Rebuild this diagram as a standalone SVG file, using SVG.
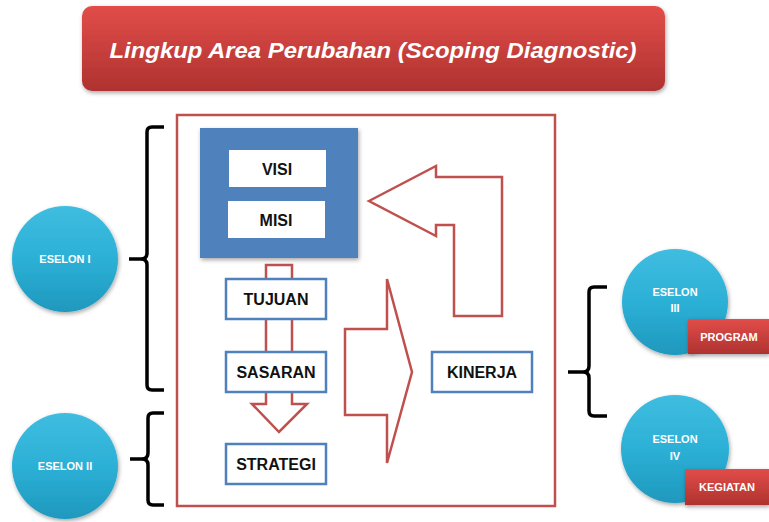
<svg xmlns="http://www.w3.org/2000/svg" width="769" height="522" viewBox="0 0 769 522">
<defs>
<linearGradient id="gRed" x1="0" y1="0" x2="0" y2="1">
<stop offset="0" stop-color="#e24d49"/>
<stop offset="1" stop-color="#ae3230"/>
</linearGradient>
<linearGradient id="gTeal" x1="0" y1="0" x2="0" y2="1">
<stop offset="0" stop-color="#3fbde0"/>
<stop offset="0.5" stop-color="#2cb0d6"/>
<stop offset="1" stop-color="#1f98bd"/>
</linearGradient>
<filter id="sh" x="-20%" y="-20%" width="140%" height="150%">
<feDropShadow dx="1" dy="2" stdDeviation="2" flood-color="#000" flood-opacity="0.35"/>
</filter>
</defs>
<style>
.lbl{font-family:"Liberation Sans",Arial,sans-serif;font-weight:bold;font-size:16px;fill:#111;text-anchor:middle}
.wl{font-family:"Liberation Sans",Arial,sans-serif;font-weight:bold;font-size:11px;fill:#fff;text-anchor:middle}
.box{fill:#fff;stroke:#4f81bd;stroke-width:2.5}
.arr{fill:#fff;stroke:#c0504d;stroke-width:2.5;stroke-linejoin:miter}
.br{fill:none;stroke:#000;stroke-width:3.5;stroke-linejoin:round;stroke-linecap:butt}
.circ{fill:url(#gTeal);filter:url(#sh)}
.tag{fill:url(#gRed);filter:url(#sh)}
</style>
<rect width="769" height="522" fill="#fff"/>

<g id="title">
<rect x="82" y="6" width="583" height="85" rx="10" fill="url(#gRed)" filter="url(#sh)"/>
<text x="373" y="58" font-family="Liberation Sans,Arial,sans-serif" font-weight="bold" font-style="italic" font-size="22" fill="#fff" text-anchor="middle" textLength="527" lengthAdjust="spacingAndGlyphs">Lingkup Area Perubahan (Scoping Diagnostic)</text>
</g>

<g id="frame">
<rect x="177" y="115" width="378" height="391" fill="none" stroke="#c0504d" stroke-width="2.5"/>
</g>

<g id="connectors">
<polygon class="arr" points="266,265 292,265 292,404 307,404 279,432 252,404 266,404"/>
<polygon class="arr" points="345,329 387,329 387,279 412,372 387,463 387,415 345,415"/>
<polygon class="arr" points="369,201 436,166 436,177 502,177 502,316 454,316 454,225 436,225 436,236"/>
<path class="br" d="M164,127 H152 Q147,127 147,132 V253 Q147,259 141,259 H129 M141,259 Q147,259 147,265 V385 Q147,390 152,390 H164"/>
<path class="br" d="M164,413 H153 Q148,413 148,418 V453 Q148,459 142,459 H130 M142,459 Q148,459 148,465 V500 Q148,505 153,505 H164"/>
<path class="br" d="M607,287 H594 Q589,287 589,292 V366 Q589,372 583,372 H568 M583,372 Q589,372 589,378 V411 Q589,416 594,416 H607"/>
</g>

<g id="visimisi">
<rect x="200" y="128" width="158" height="130" fill="#4f81bd" filter="url(#sh)"/>
<rect x="229" y="150" width="97" height="37" fill="#fff"/>
<text class="lbl" x="277" y="175" font-size="17">VISI</text>
<rect x="228" y="201" width="97" height="37" fill="#fff"/>
<text class="lbl" x="276" y="226" font-size="17">MISI</text>
</g>

<g id="tujuan">
<rect class="box" x="226" y="279" width="100" height="40"/>
<text class="lbl" x="276" y="305">TUJUAN</text>
</g>
<g id="sasaran">
<rect class="box" x="226" y="352" width="100" height="40"/>
<text class="lbl" x="276" y="378">SASARAN</text>
</g>
<g id="strategi">
<rect class="box" x="226" y="444" width="100" height="40"/>
<text class="lbl" x="276" y="470">STRATEGI</text>
</g>
<g id="kinerja">
<rect class="box" x="432" y="352" width="100" height="40"/>
<text class="lbl" x="482" y="378">KINERJA</text>
</g>

<g id="eselon1">
<circle class="circ" cx="65" cy="259" r="53"/>
<text class="wl" x="65" y="263">ESELON I</text>
</g>
<g id="eselon2">
<circle class="circ" cx="65" cy="466" r="53"/>
<text class="wl" x="65" y="470">ESELON II</text>
</g>
<g id="eselon3">
<circle class="circ" cx="675" cy="302" r="53"/>
<text class="wl" x="675" y="296">ESELON</text>
<text class="wl" x="675" y="312">III</text>
</g>
<g id="program">
<rect class="tag" x="688" y="319" width="81" height="35"/>
<text class="wl" x="729" y="341">PROGRAM</text>
</g>
<g id="eselon4">
<circle class="circ" cx="675" cy="449" r="54"/>
<text class="wl" x="675" y="443">ESELON</text>
<text class="wl" x="675" y="460">IV</text>
</g>
<g id="kegiatan">
<rect class="tag" x="685" y="469" width="84" height="36"/>
<text class="wl" x="727" y="491">KEGIATAN</text>
</g>
</svg>
